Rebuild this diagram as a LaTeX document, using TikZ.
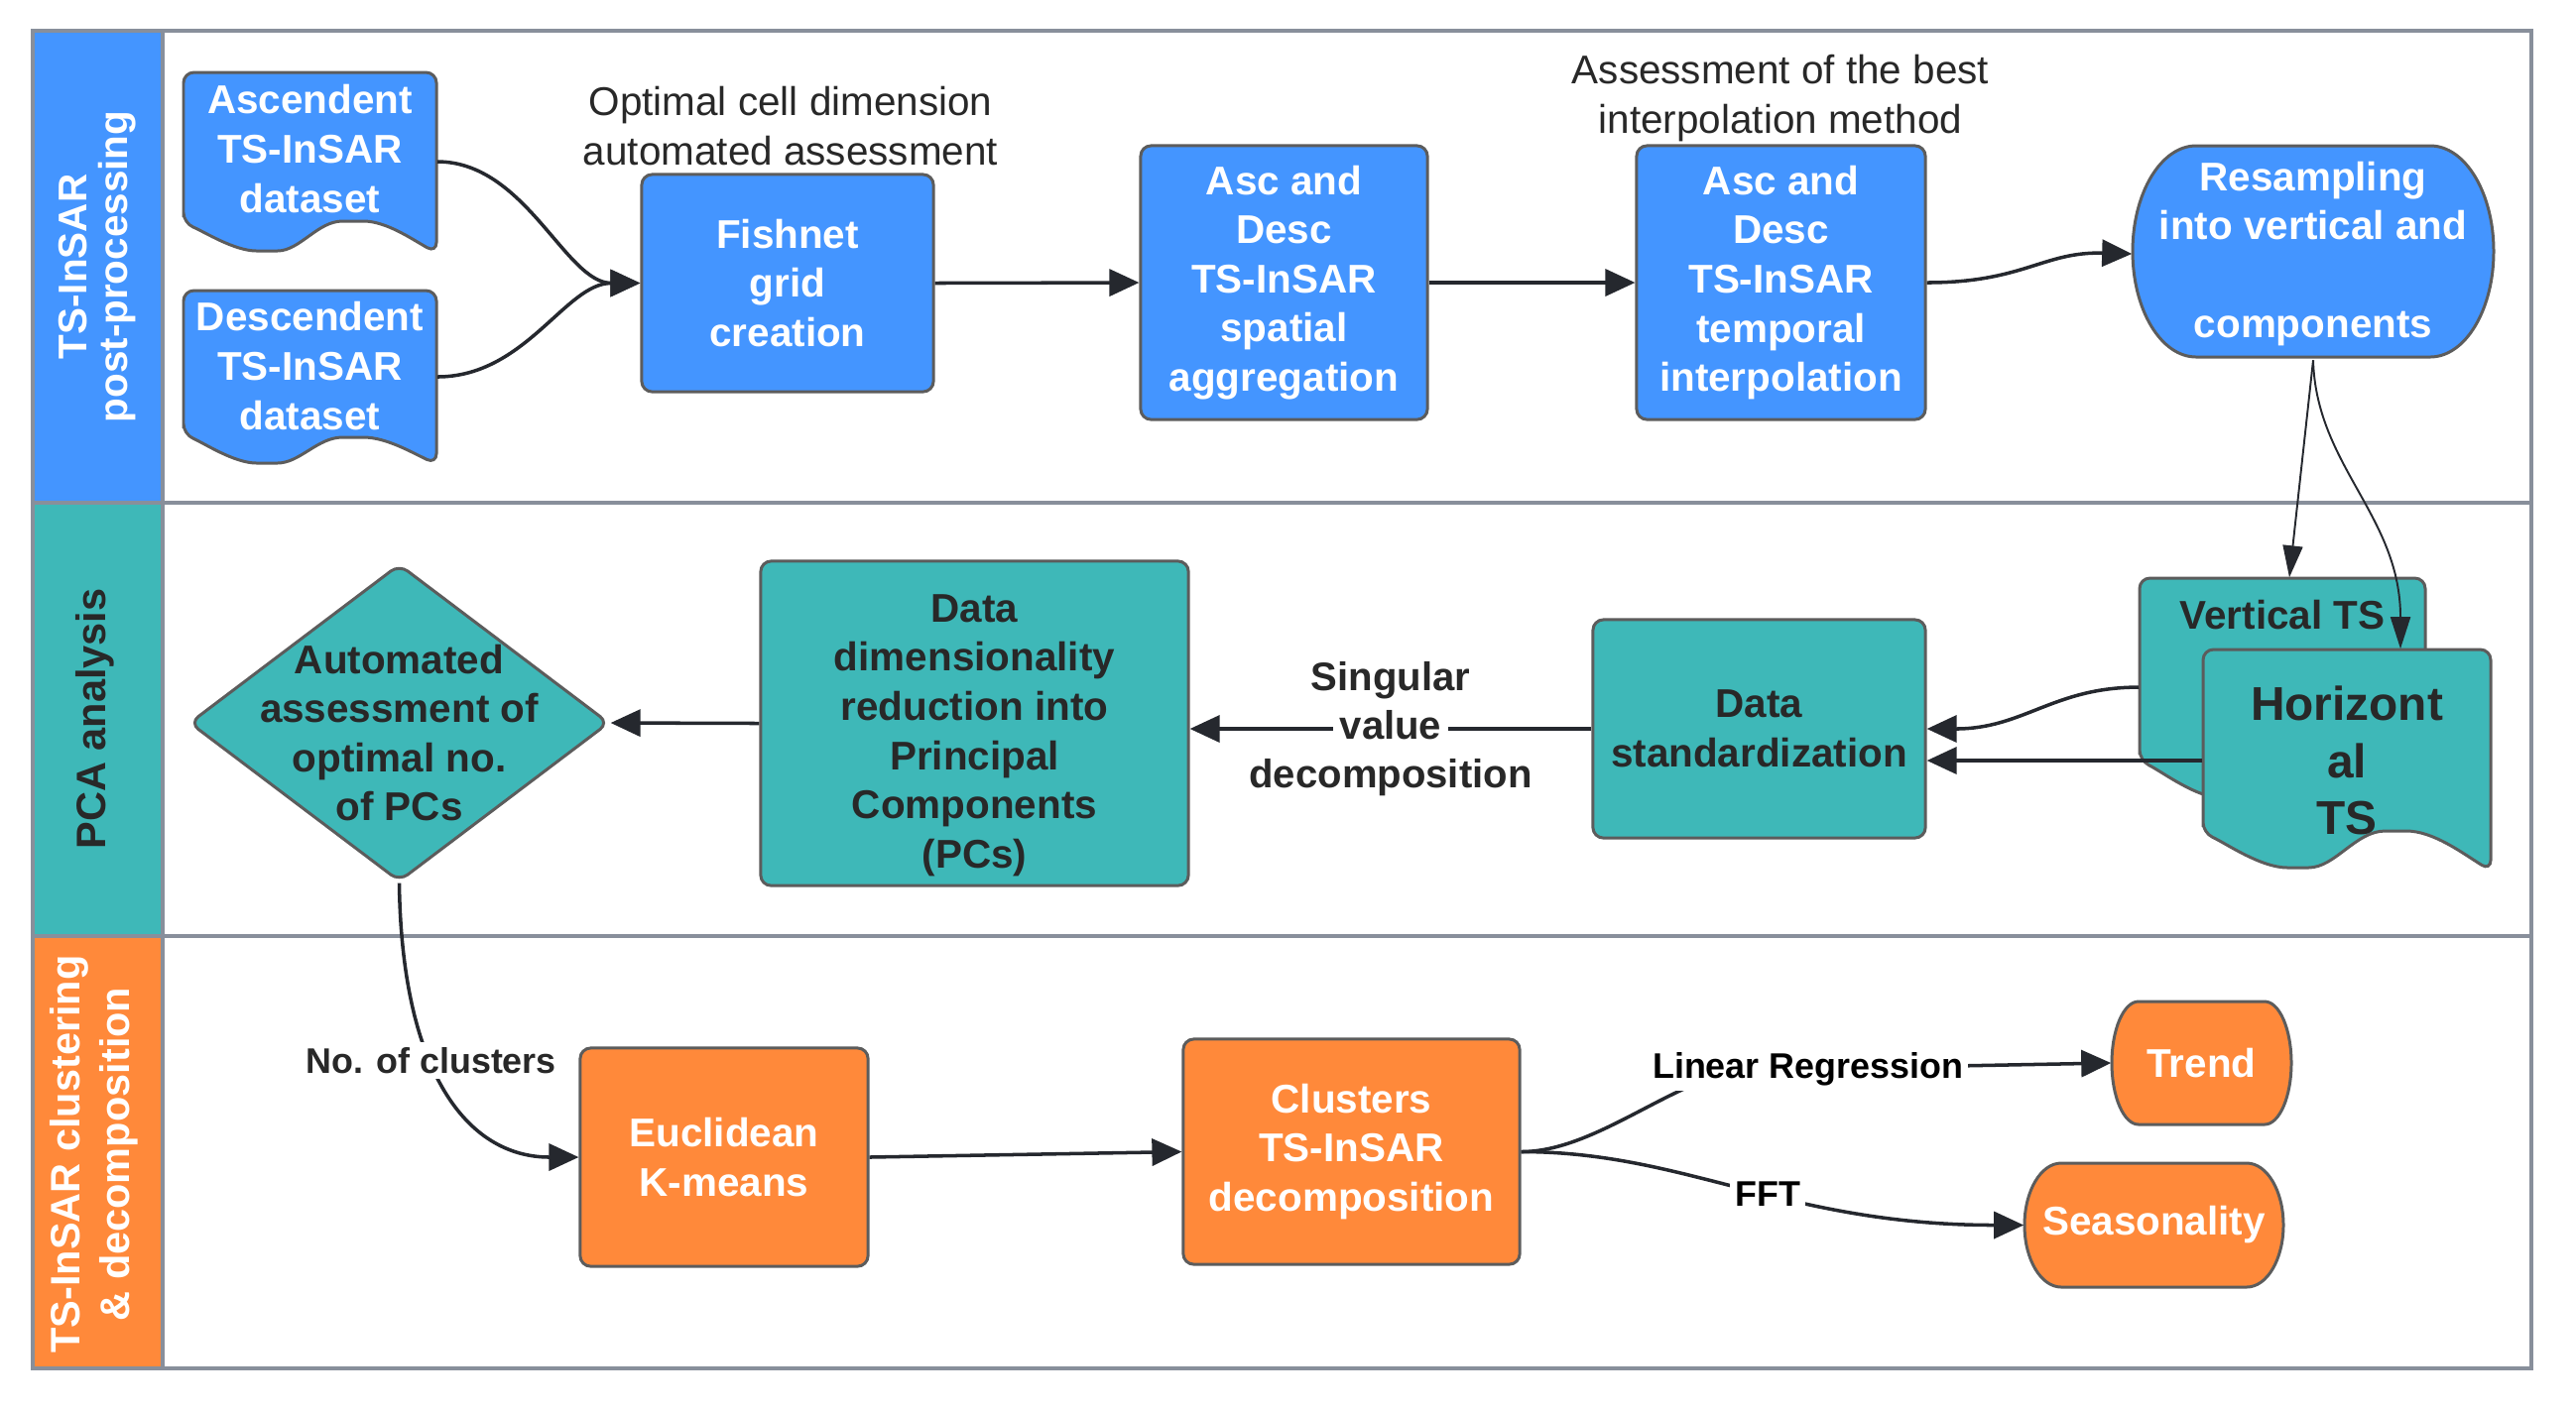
\documentclass[tikz,border=0pt]{standalone}
\usepackage{fontspec}
\setmainfont{Liberation Sans}
\usetikzlibrary{arrows.meta,shapes.geometric,calc}
\definecolor{cblue}{RGB}{68,149,255}
\definecolor{cteal}{RGB}{62,184,184}
\definecolor{corange}{RGB}{255,137,58}
\definecolor{cborder}{RGB}{92,92,92}
\definecolor{clane}{RGB}{136,143,155}
\definecolor{carrow}{RGB}{37,40,46}
\definecolor{cdark}{RGB}{40,40,40}
\newcommand\boxfont{\fontsize{11.5}{14.1}\selectfont\bfseries}
% document shape: x0 x1 top leftbottom dip peak rightbottom fill
\newcommand\docsh[8]{%
 \draw[docline, fill=#8] ({#1},{#4}) -- ({#1},{#3}) -- ({#2},{#3}) -- ({#2},{#7})
   .. controls ({#2-0.1*(#2-#1)},{#7-0.45*(#7-#6)}) and ({#1+0.8*(#2-#1)},{#6}) .. ({#1+0.67*(#2-#1)},{#6})
   .. controls ({#1+0.53*(#2-#1)},{#6}) and ({#1+0.46*(#2-#1)},{#5}) .. ({#1+0.33*(#2-#1)},{#5})
   .. controls ({#1+0.2*(#2-#1)},{#5}) and ({#1+0.08*(#2-#1)},{#4+0.3*(#5-#4)}) .. ({#1},{#4}) -- cycle;}
% terminator with elliptic sides: x0 x1 y0 y1 rx fill
\newcommand\termsh[6]{%
 \draw[docline, rounded corners=0pt, fill=#6] ({#1+#5},{#3}) -- ({#2-#5},{#3})
   .. controls ({#2-0.4477*#5},{#3}) and ({#2},{(#3+#4)/2-0.5523*(#4-#3)/2}) .. ({#2},{(#3+#4)/2})
   .. controls ({#2},{(#3+#4)/2+0.5523*(#4-#3)/2}) and ({#2-0.4477*#5},{#4}) .. ({#2-#5},{#4})
   -- ({#1+#5},{#4})
   .. controls ({#1+0.4477*#5},{#4}) and ({#1},{(#3+#4)/2+0.5523*(#4-#3)/2}) .. ({#1},{(#3+#4)/2})
   .. controls ({#1},{(#3+#4)/2-0.5523*(#4-#3)/2}) and ({#1+0.4477*#5},{#3}) .. cycle;}
\tikzset{
  laneline/.style={draw=clane, line width=1.1pt},
  docline/.style={draw=cborder, line width=0.85pt, rounded corners=3pt},
  box/.style={draw=cborder, line width=0.85pt, rounded corners=3pt, align=center, font=\boxfont, inner sep=2pt},
  txt/.style={align=center, font=\boxfont, inner sep=0pt},
  hdr/.style={align=center, rotate=90, inner sep=0pt},
  ann/.style={align=center, text=cdark, font=\fontsize{11.5}{14.1}\selectfont, inner sep=1pt},
  elbl/.style={align=center, fill=white, inner sep=1.5pt, font=\fontsize{10.2}{12.5}\selectfont\bfseries},
  arr/.style={draw=carrow, line width=1pt, -{Triangle[length=0.3cm,width=0.27cm]}},
  thinarr/.style={draw=carrow, line width=0.55pt, -{Triangle[length=0.32cm,width=0.2cm]}},
}
\begin{document}
\begin{tikzpicture}[x=0.01cm,y=-0.01cm]
\useasboundingbox (0,0) rectangle (2597,1423);
% lanes
\fill[cblue] (33,31) rectangle (164,507);
\fill[cteal] (33,507) rectangle (164,944);
\fill[corange] (33,944) rectangle (164,1380);
\draw[laneline] (33,31) rectangle (2552,1380);
\draw[laneline] (164,31) -- (164,1380);
\draw[laneline] (33,507) -- (2552,507);
\draw[laneline] (33,944) -- (2552,944);
\node[hdr, text=white, font=\fontsize{11.5}{11.7}\selectfont\bfseries] (h1) at (98,269) {TS-InSAR\\post-processing};
\node[hdr, text=cdark, font=\fontsize{11.8}{14}\selectfont\bfseries] (h2) at (96,725) {PCA analysis};
\node[hdr, text=white, font=\fontsize{11.8}{14.2}\selectfont\bfseries] (h3) at (95,1164) {TS-InSAR clustering\\\& decomposition};

% lane 1
\docsh{185}{440}{73}{225}{253}{223}{255}{cblue}
\node[txt, text=white, minimum width=2.55cm, minimum height=1.54cm] (asc) at (312.5,150) {Ascendent\\TS-InSAR\\dataset};
\docsh{185}{440}{293}{438}{467}{441}{468}{cblue}
\node[txt, text=white, minimum width=2.55cm, minimum height=1.52cm] (desc) at (312.5,369) {Descendent\\TS-InSAR\\dataset};
\node[box, fill=cblue, text=white, minimum width=2.94cm, minimum height=2.19cm] (fish) at (794,285.5) {Fishnet\\grid\\creation};
\node[box, fill=cblue, text=white, minimum width=2.89cm, minimum height=2.76cm] (spat) at (1294.5,285) {Asc and\\Desc\\TS-InSAR\\spatial\\aggregation};
\node[box, fill=cblue, text=white, minimum width=2.91cm, minimum height=2.76cm] (temp) at (1795.5,285) {Asc and\\Desc\\TS-InSAR\\temporal\\interpolation};
\termsh{2150}{2514}{147}{360}{64}{cblue}
\node[txt, text=white, minimum width=3.64cm, minimum height=2.13cm] (res) at (2332,256) {Resampling\\into vertical and\\\mbox{}\\components};
\node[ann] (a1) at (797,127) {Optimal cell dimension\\automated assessment};
\node[ann] (a2) at (1795,99) {Assessment of the best\\interpolation method};

% lane 2
\docsh{2157}{2445}{583}{767}{805}{765}{810}{cteal}
\node[txt, text=cdark, minimum width=2.88cm, minimum height=0.74cm] (ver) at (2301,620) {Vertical TS};
\docsh{2221}{2511}{655}{840}{875}{838}{878}{cteal}
\node[txt, text=cdark, font=\fontsize{13.6}{16.3}\selectfont\bfseries, minimum width=2.9cm, minimum height=2.24cm] (hor) at (2366,767) {Horizont\\al\\TS};
\node[box, fill=cteal, text=cdark, minimum width=3.35cm, minimum height=2.2cm] (std) at (1773.5,735) {Data\\standardization};
\node[box, fill=cteal, minimum width=4.31cm, minimum height=3.27cm,
  label={[font=\boxfont, text=cdark, align=center, yshift=-0.12cm]center:{Data\\dimensionality\\reduction into\\Principal\\Components\\(PCs)}}] (dim) at (982.5,729.5) {};
\node[draw=cborder, fill=cteal, diamond, aspect=1.32, minimum width=4.23cm, minimum height=3.2cm, inner sep=0pt, rounded corners=3pt, line width=0.85pt,
  label={[font=\boxfont, text=cdark, align=center, yshift=-0.1cm]center:{Automated\\assessment of\\optimal no.\\of PCs}}] (diam) at (402.5,729) {};

% lane 3
\node[box, fill=corange, text=white, minimum width=2.9cm, minimum height=2.2cm] (km) at (730,1167) {Euclidean\\K-means};
\node[box, fill=corange, text=white, minimum width=3.39cm, minimum height=2.27cm] (clus) at (1362.5,1161.5) {Clusters\\TS-InSAR\\decomposition};
\termsh{2129}{2310}{1010}{1134}{27}{corange}
\node[txt, text=white, minimum width=1.81cm, minimum height=1.24cm] (trend) at (2219.5,1072) {Trend};
\termsh{2041}{2302}{1173}{1298}{37}{corange}
\node[txt, text=white, minimum width=2.61cm, minimum height=1.25cm] (seas) at (2171.5,1235.5) {Seasonality};

% connectors
\draw[arr] ([yshift=-0.13cm]asc.east) .. controls (530,163) and (570,285.5) .. (fish.west);
\draw[arr] ([yshift=-0.11cm]desc.east) .. controls (530,380) and (570,285.5) .. (fish.west);
\draw[arr] (fish.east) -- (spat.west);
\draw[arr] (spat.east) -- (temp.west);
\draw[arr] (temp.east) .. controls (2040,285) and (2060,253.5) .. (res.west);
\draw[thinarr] (res.south) -- ([xshift=0.07cm]ver.north);
\draw[thinarr] (res.south) .. controls (2335,470) and (2420,520) .. ([xshift=0.54cm]hor.north);
\draw[arr] ([yshift=-0.73cm]ver.west) .. controls (2070,693) and (2040,735) .. (std.east);
\draw[arr] (hor.west) -- (hor.west -| std.east);
\draw[arr] (std.west) -- node[align=center, inner sep=0pt, text=cdark, font=\fontsize{11.4}{14}\selectfont\bfseries]{Singular\\{\fboxsep=2pt\colorbox{white}{value}}\\decomposition} (std.west -| dim.east);
\draw[arr] (dim.west) -- (diam.east);
\draw[arr] (diam.south) .. controls (405,1080) and (470,1167) .. node[pos=0.4, elbl, text=cdark]{No. of clusters} (km.west);
\draw[arr] (km.east) -- (clus.west);
\draw[arr] (clus.east) .. controls (1610,1161.5) and (1690,1085) .. (1760,1079) -- node[pos=0.17, elbl, text=black]{Linear Regression} (trend.west);
\draw[arr] (clus.east) .. controls (1700,1161.5) and (1800,1235.5) .. node[pos=0.55, elbl, text=black]{FFT} (seas.west);
\end{tikzpicture}
\end{document}
